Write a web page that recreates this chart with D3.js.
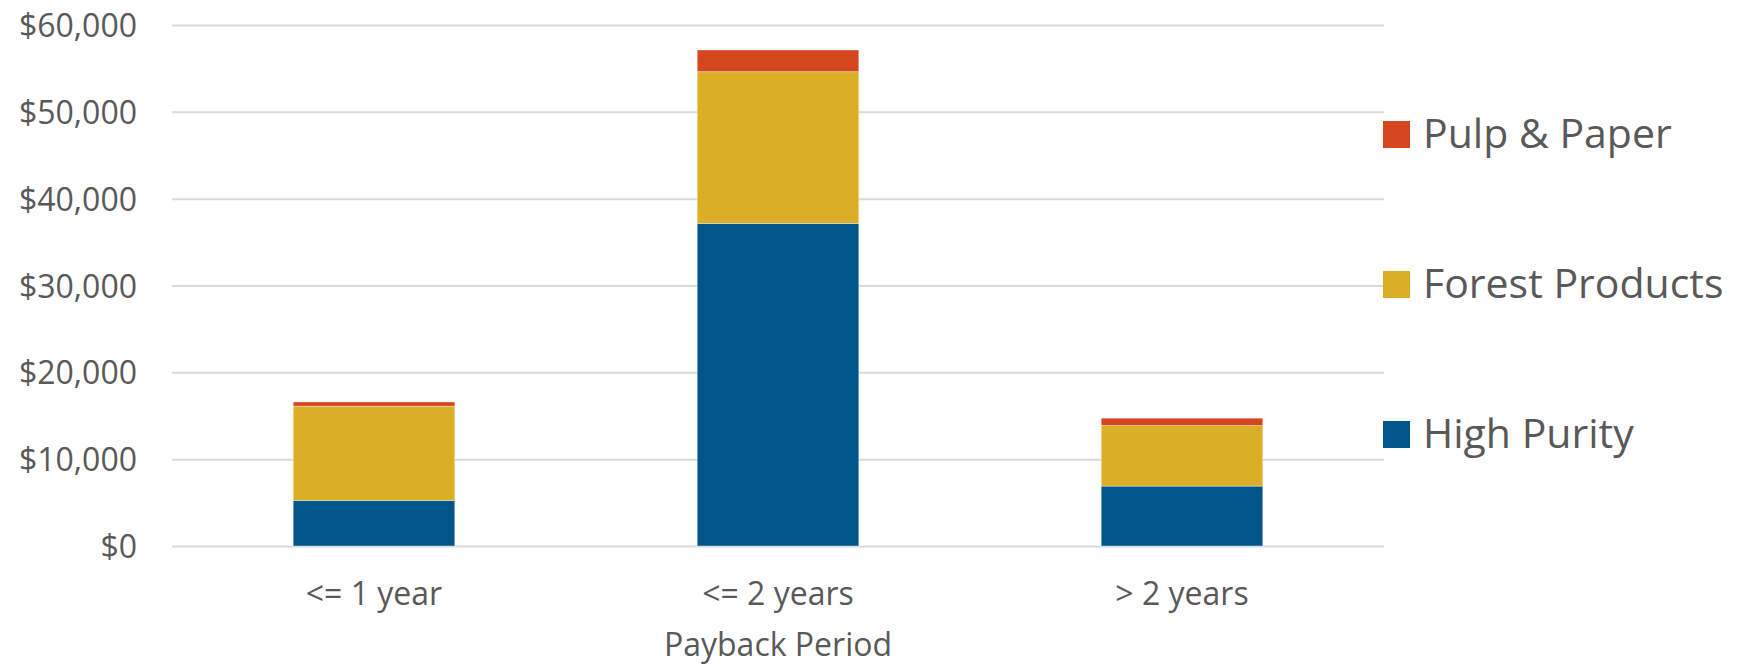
<!DOCTYPE html>
<html>
<head>
<meta charset="utf-8">
<script src="https://cdn.jsdelivr.net/npm/d3@7"></script>
<style>
  body { margin: 0; background: #fff; }
  text { font-family: 'Open Sans', sans-serif; fill: #595959; }
</style>
</head>
<body>
<div id="main"></div>
<script>
/*********************************************************
 * Data
 *********************************************************/
const periods = ['<= 1 year', '<= 2 years', '> 2 years'];
const seriesNames = ['High Purity', 'Forest Products', 'Pulp & Paper'];
const highPurity = [5250, 37150, 6900];
const forestProducts = [10850, 17470, 6970];
const pulpPaper = [490, 2500, 850];
const yTicks = [0, 10000, 20000, 30000, 40000, 50000, 60000];
const xTitle = 'Payback Period';

/*********************************************************
 * Layout
 *********************************************************/
const svgWidth = 1747;
const svgHeight = 665;
const margin = { t: 25, r: 363, b: 119, l: 172 };
const chartWidth = svgWidth - margin.l - margin.r;
const chartHeight = svgHeight - margin.t - margin.b;

const colors = {
  'High Purity': '#00558b',
  'Forest Products': '#dbae28',
  'Pulp & Paper': '#d5461e'
};

const svg = d3
  .select('#main')
  .append('svg')
  .attr('width', svgWidth)
  .attr('height', svgHeight);

const chart = svg
  .append('g')
  .attr('transform', `translate(${margin.l}, ${margin.t})`);

// build the rows for the stack
const rows = periods.map((p, i) => ({
  period: p,
  'High Purity': highPurity[i],
  'Forest Products': forestProducts[i],
  'Pulp & Paper': pulpPaper[i]
}));

const x = d3
  .scaleBand()
  .domain(periods)
  .range([0, chartWidth])
  .paddingInner(0.6)
  .paddingOuter(0.3);

const y = d3.scaleLinear().domain([0, 60000]).range([chartHeight, 0]);

// gridlines + y labels
const yAxis = d3
  .axisLeft(y)
  .tickValues(yTicks)
  .tickSize(-chartWidth)
  .tickPadding(35)
  .tickFormat(d => '$' + d3.format(',')(d));

const yG = chart.append('g').attr('class', 'y axis').call(yAxis);
yG.select('.domain').remove();
yG.selectAll('.tick line').attr('stroke', '#d9d9d9').attr('stroke-width', 2);
yG.selectAll('.tick text')
  .attr('font-size', 32)
  .attr('dy', '0.36em')
  .style('font-family', "'Open Sans', sans-serif")
  .attr('fill', '#595959');

// stacked bars
const stack = d3.stack().keys(seriesNames);
const layers = stack(rows);

chart
  .selectAll('.layer')
  .data(layers)
  .enter()
  .append('g')
  .attr('class', 'layer')
  .attr('fill', d => colors[d.key])
  .selectAll('rect')
  .data(d => d)
  .enter()
  .append('rect')
  .attr('x', d => x(d.data.period))
  .attr('width', x.bandwidth())
  .attr('y', d => y(d[1]))
  .attr('height', d => y(d[0]) - y(d[1]))
  .attr('stroke', '#fff')
  .attr('stroke-opacity', 0.5)
  .attr('stroke-width', 0.75);

// x labels
const xAxis = d3.axisBottom(x).tickSize(0).tickPadding(37);
const xG = chart
  .append('g')
  .attr('class', 'x axis')
  .attr('transform', `translate(0, ${chartHeight})`)
  .call(xAxis);
xG.select('.domain').remove();
xG.selectAll('.tick text')
  .attr('font-size', 32)
  .attr('dy', 0)
  .attr('y', 59)
  .style('font-family', "'Open Sans', sans-serif")
  .attr('fill', '#595959');

// x title
chart
  .append('text')
  .attr('x', chartWidth / 2)
  .attr('y', 656 - margin.t)
  .attr('text-anchor', 'middle')
  .attr('font-size', 32)
  .text(xTitle);

// legend (reverse order, top is Pulp & Paper)
const legend = svg
  .append('g')
  .attr('transform', `translate(${margin.l + chartWidth - 1}, 0)`);

const legendItems = seriesNames.slice().reverse();
const legendRow = legend
  .selectAll('.legend-item')
  .data(legendItems)
  .enter()
  .append('g')
  .attr('class', 'legend-item')
  .attr('transform', (d, i) => `translate(0, ${121 + i * 150})`);

legendRow
  .append('rect')
  .attr('width', 27)
  .attr('height', 27)
  .attr('fill', d => colors[d]);

legendRow
  .append('text')
  .attr('x', 40)
  .attr('y', 27)
  .attr('font-size', 41)
  .text(d => d);
</script>
</body>
</html>
